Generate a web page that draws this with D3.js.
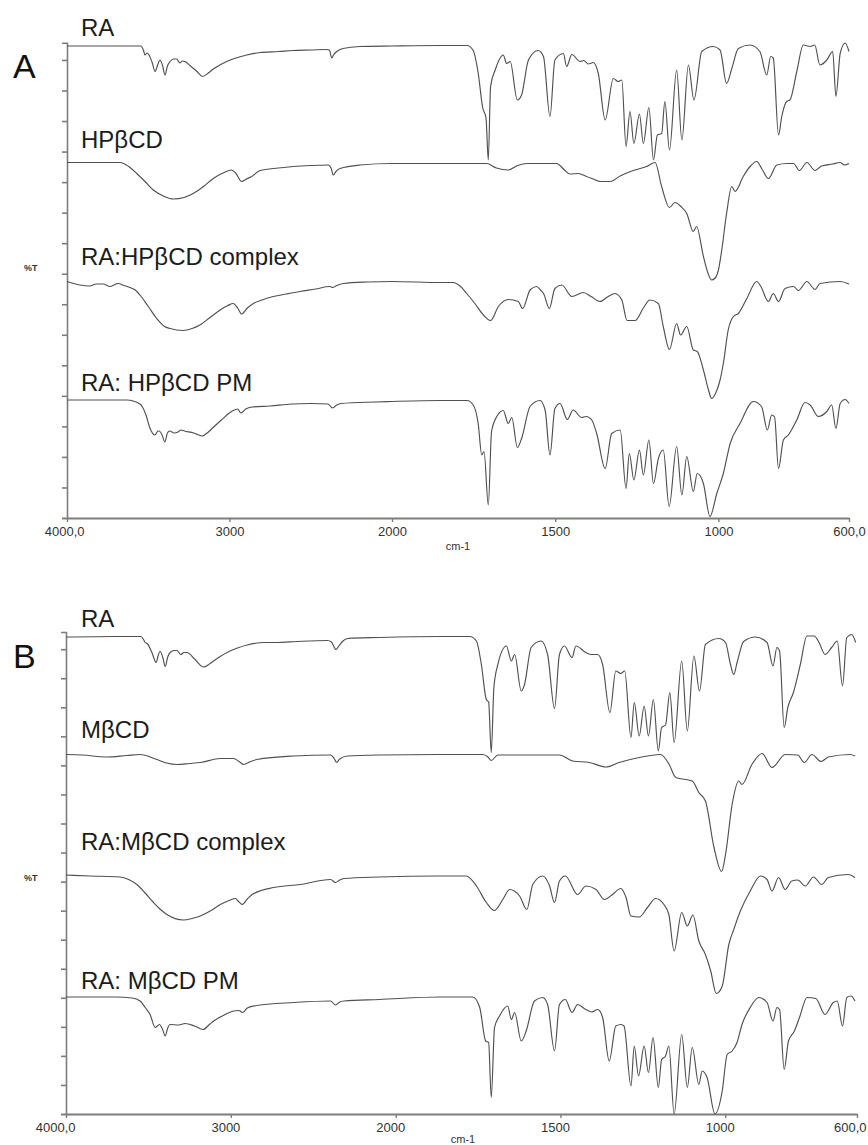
<!DOCTYPE html>
<html>
<head>
<meta charset="utf-8">
<script src="https://cdn.jsdelivr.net/npm/d3@7"></script>
<style>
  body { margin: 0; background: #fff; }
  svg { display: block; }
  .trace { fill: none; stroke: #505050; stroke-width: 1.15; stroke-linejoin: round; }
  .axis path, .axis line { stroke: #7d7d7d; }
  .name { font-family: "Liberation Sans", Arial, sans-serif; font-size: 24px; fill: #1c1c1c; }
  .letter { font-family: "Liberation Sans", Arial, sans-serif; font-size: 34px; fill: #111; }
  .unit { font-family: "Liberation Sans Narrow", "Arial Narrow", "Liberation Sans", sans-serif; fill: #333; }
</style>
</head>
<body>
<svg id="chart" width="868" height="1145"></svg>
<script>
// wavenumber axis (cm-1), scale changes at 2000
var wnBreaks = [4000, 2000, 600];
var xTicks = [4000, 3000, 2000, 1500, 1000, 600];
var xTickLabels = ["4000,0", "3000", "2000", "1500", "1000", "600,0"];

var namesA = ["RA", "HPβCD", "RA:HPβCD complex", "RA: HPβCD PM"];
var namesB = ["RA", "MβCD", "RA:MβCD complex", "RA: MβCD PM"];

// stacked %T values, [wavenumber, %T]
var raA = [[4000,94.4],[3700,94.4],[3545,94.4],[3530,93.6],[3520,92.6],[3508,93.0],[3495,92.6],[3475,91.0],[3458,89.3],[3440,90.8],[3428,91.6],[3412,90.5],[3397,88.6],[3382,90.4],[3366,91.3],[3345,91.8],[3325,91.8],[3305,91.0],[3290,91.4],[3274,91.3],[3240,90.4],[3200,89.3],[3165,88.3],[3130,89.0],[3100,89.8],[3060,90.6],[3017,91.3],[2960,92.0],[2894,92.6],[2812,93.1],[2700,93.3],[2609,93.5],[2500,93.6],[2402,93.7],[2385,93.6],[2371,92.0],[2360,92.6],[2340,93.3],[2302,93.9],[2197,94.3],[2000,94.4],[1853,94.5],[1770,94.5],
  [1752,93.6],[1736,89.0],[1722,82.0],[1712,80.0],[1705,71.6],[1698,86.3],[1684,89.6],[1659,92.6],[1649,90.9],[1638,91.3],[1616,83.6],[1603,84.6],[1582,91.6],[1552,93.5],[1536,92.3],[1516,80.3],[1501,91.6],[1475,92.9],[1465,90.3],[1449,92.7],[1424,91.3],[1412,91.5],[1399,90.8],[1383,91.1],[1368,88.9],[1347,79.6],[1322,87.9],[1307,87.3],[1296,87.6],[1283,74.3],[1271,81.3],[1259,74.9],[1242,80.8],[1230,74.9],[1213,82.1],[1199,71.6],[1187,76.6],[1174,76.9],[1164,83.3],[1150,73.6],[1128,89.6],[1112,75.6],[1092,90.6],[1075,83.6],[1051,93.3],[1016,94.3],[995,93.6],[975,86.9],[959,89.9],[939,93.9],[903,94.6],[873,93.3],[852,88.6],[840,92.3],[832,92.0],[816,76.6],[806,80.3],[791,83.3],[781,83.6],[760,89.3],[740,94.6],[719,94.3],[705,94.6],[689,90.6],[668,91.6],[650,93.3],[640,84.3],[627,92.9],[612,95.0],[600,93.3]];

var hpbcd = [[4000,71.1],[3800,71.1],[3674,71.1],[3620,70.3],[3571,68.9],[3520,67.3],[3469,65.6],[3400,64.3],[3346,63.8],[3280,64.1],[3223,64.9],[3160,66.3],[3100,67.9],[3040,69.0],[2987,69.6],[2960,68.9],[2925,67.3],[2895,67.8],[2864,68.3],[2812,69.5],[2700,70.0],[2607,70.3],[2500,70.5],[2392,70.6],[2375,70.0],[2361,68.6],[2345,69.3],[2320,69.9],[2197,70.6],[2000,70.9],[1853,70.9],[1710,70.9],[1680,70.0],[1644,69.6],[1615,70.5],[1587,70.9],[1496,70.9],[1470,69.5],[1455,68.8],[1430,68.9],[1404,68.3],[1380,67.7],[1363,67.3],[1332,67.3],[1301,68.4],[1261,69.5],[1220,70.3],[1194,71.1],[1174,66.3],[1150,62.1],[1133,63.1],[1115,62.3],[1097,60.9],[1077,57.3],[1067,58.3],[1046,52.3],[1030,48.6],[1021,47.6],[1010,48.0],[1000,49.6],[990,53.5],[975,60.9],[959,66.3],[949,65.3],[924,68.3],[903,70.3],[883,71.3],[865,69.6],[847,67.9],[821,70.6],[790,70.9],[770,70.9],[752,69.5],[729,71.1],[704,69.5],[684,70.4],[650,70.8],[627,71.1],[614,70.6],[600,70.9]];

var complexA = [[4000,47.3],[3920,46.6],[3860,46.4],[3820,46.8],[3777,46.8],[3735,46.3],[3700,46.8],[3684,46.9],[3650,46.5],[3612,46.1],[3580,45.6],[3551,44.6],[3500,42.3],[3448,39.9],[3400,38.3],[3366,37.9],[3285,37.5],[3230,37.9],[3182,38.6],[3120,40.1],[3058,41.6],[3010,42.5],[2977,42.9],[2950,42.0],[2925,40.8],[2890,42.0],[2853,42.9],[2800,43.6],[2730,44.3],[2650,44.8],[2566,45.3],[2470,45.8],[2382,46.3],[2365,46.1],[2340,46.5],[2300,46.9],[2150,47.2],[2000,47.3],[1853,47.1],[1813,47.1],[1790,46.3],[1771,44.9],[1745,42.8],[1720,40.6],[1698,39.5],[1674,42.3],[1644,43.7],[1613,43.3],[1600,41.9],[1577,45.6],[1557,46.3],[1545,45.6],[1535,44.8],[1518,41.9],[1501,45.9],[1480,46.6],[1449,44.3],[1414,45.1],[1390,44.3],[1363,43.3],[1340,44.2],[1317,44.9],[1296,43.6],[1280,39.5],[1255,39.5],[1230,42.0],[1210,43.6],[1184,42.9],[1169,38.3],[1150,33.7],[1128,38.9],[1116,36.6],[1097,38.3],[1077,33.6],[1065,33.3],[1046,29.6],[1030,25.5],[1021,23.9],[1005,25.5],[995,27.6],[985,30.9],[970,37.6],[954,40.3],[939,40.9],[913,43.9],[883,47.3],[870,46.3],[847,43.3],[832,44.9],[816,43.3],[796,45.9],[770,46.3],[755,45.5],[729,47.3],[704,45.7],[689,46.9],[627,47.3],[600,46.8]];

var pmA = [[4000,23.6],[3700,23.6],[3633,23.6],[3551,22.8],[3514,20.6],[3490,18.0],[3459,16.6],[3440,17.4],[3433,17.4],[3415,16.6],[3398,15.2],[3382,17.0],[3368,17.4],[3340,17.0],[3317,17.2],[3300,17.6],[3277,17.4],[3220,17.0],[3169,16.4],[3130,17.2],[3104,18.0],[3050,19.6],[2983,21.4],[2950,21.8],[2930,21.0],[2900,21.8],[2861,22.2],[2750,22.4],[2618,22.8],[2500,22.9],[2395,22.8],[2365,22.0],[2340,22.6],[2314,22.9],[2100,23.2],[2000,23.3],[1853,23.5],[1770,23.5],[1751,22.6],[1736,18.9],[1725,12.6],[1718,13.3],[1705,2.6],[1695,17.3],[1679,20.3],[1659,21.5],[1644,18.9],[1633,20.1],[1616,14.1],[1603,15.9],[1577,22.3],[1547,23.5],[1531,21.6],[1516,12.6],[1501,21.9],[1485,22.9],[1463,19.7],[1445,21.6],[1419,20.1],[1405,20.3],[1388,19.6],[1373,16.9],[1347,9.9],[1327,16.9],[1301,17.6],[1283,5.9],[1273,12.9],[1259,7.6],[1242,13.6],[1230,8.6],[1213,15.6],[1199,6.9],[1184,11.9],[1169,13.6],[1151,2.3],[1128,14.3],[1112,4.6],[1097,12.3],[1077,5.3],[1065,8.9],[1046,6.9],[1026,0.3],[1005,4.9],[985,8.9],[964,14.9],[934,18.9],[893,23.3],[868,22.3],[850,17.6],[837,20.6],[828,20.2],[816,9.9],[801,15.6],[786,16.6],[760,19.6],[735,23.1],[719,22.6],[694,20.3],[668,21.3],[653,22.6],[640,17.9],[627,22.9],[612,23.7],[600,22.9]];

var raB = [[4000,100.0],[3700,100.1],[3545,100.1],[3530,99.5],[3520,98.9],[3505,98.6],[3480,97.0],[3453,94.9],[3440,96.4],[3429,97.1],[3412,95.8],[3398,94.1],[3383,96.0],[3368,96.9],[3345,97.3],[3327,97.3],[3303,96.5],[3285,96.9],[3266,96.9],[3220,95.6],[3165,94.0],[3130,94.6],[3105,95.2],[3060,96.2],[3023,96.9],[2960,97.8],[2901,98.4],[2800,98.9],[2719,98.9],[2600,99.1],[2414,99.3],[2390,99.0],[2362,97.5],[2345,98.2],[2320,99.2],[2292,99.7],[2100,99.9],[1865,100.1],[1775,100.1],
  [1755,99.2],[1740,94.5],[1725,87.5],[1718,87.0],[1710,76.9],[1702,89.9],[1690,94.5],[1664,98.2],[1649,95.2],[1639,96.5],[1619,89.2],[1609,90.5],[1589,97.9],[1559,99.2],[1539,96.5],[1518,85.7],[1503,96.5],[1488,98.2],[1465,95.9],[1453,98.2],[1423,96.9],[1405,96.5],[1387,96.5],[1372,94.5],[1350,84.9],[1332,93.2],[1317,92.7],[1305,93.2],[1286,79.9],[1276,86.9],[1261,80.2],[1246,86.2],[1233,80.2],[1218,87.5],[1203,77.2],[1193,81.9],[1181,82.4],[1168,88.9],[1155,78.9],[1132,95.2],[1115,81.2],[1095,96.2],[1078,89.2],[1060,98.5],[1019,99.7],[999,98.9],[984,94.5],[974,92.5],[964,94.9],[944,99.1],[908,100.0],[873,98.9],[855,94.2],[843,97.9],[835,97.2],[821,81.9],[810,85.9],[793,88.9],[772,94.5],[752,100.2],[730,100.2],[715,98.9],[697,96.5],[677,97.9],[660,99.2],[644,90.2],[631,99.9],[616,100.5],[604,98.9]];

var mbcd = [[4000,76.5],[3900,76.4],[3753,76.0],[3631,76.3],[3550,76.5],[3449,75.5],[3390,74.8],[3327,74.5],[3250,74.7],[3185,74.9],[3064,75.7],[2983,75.7],[2950,75.1],[2922,74.5],[2880,75.1],[2841,75.5],[2618,76.2],[2395,76.4],[2375,75.8],[2359,74.9],[2340,75.6],[2292,76.2],[2100,76.4],[1865,76.5],[1736,76.5],[1720,76.0],[1710,75.3],[1690,76.4],[1503,76.4],[1463,75.2],[1412,74.9],[1362,74.0],[1322,74.9],[1261,75.9],[1196,76.5],[1170,74.5],[1150,71.9],[1100,71.2],[1080,68.9],[1060,67.2],[1034,57.9],[1011,53.1],[999,56.5],[979,66.5],[959,71.2],[949,70.5],[919,74.5],[888,76.7],[858,73.9],[818,76.5],[780,76.4],[760,74.9],[737,76.5],[709,75.1],[687,76.0],[621,76.5],[606,76.2]];

var complexB = [[4000,52.4],[3850,52.2],[3672,52.0],[3620,51.5],[3570,50.5],[3520,48.8],[3469,46.9],[3430,45.6],[3388,44.5],[3287,43.4],[3235,43.7],[3185,44.2],[3120,45.3],[3064,46.5],[3010,47.3],[2973,47.7],[2950,47.0],[2932,46.5],[2900,47.6],[2871,48.5],[2740,49.9],[2578,50.5],[2395,51.5],[2365,50.9],[2340,51.4],[2314,51.7],[2100,52.0],[1865,52.2],[1786,52.2],[1755,50.2],[1725,46.9],[1700,45.3],[1675,47.5],[1654,49.5],[1640,49.2],[1624,48.2],[1602,45.5],[1584,50.5],[1554,52.2],[1533,50.2],[1518,46.9],[1503,51.2],[1485,52.2],[1448,48.5],[1423,50.2],[1392,49.5],[1367,47.5],[1342,48.5],[1317,49.7],[1301,47.9],[1286,44.2],[1261,44.0],[1236,45.9],[1211,47.7],[1186,46.5],[1171,44.5],[1155,37.2],[1132,44.9],[1115,42.2],[1098,44.4],[1080,39.2],[1060,36.5],[1044,33.2],[1027,28.7],[1009,30.2],[989,38.5],[974,41.5],[954,45.2],[924,49.2],[893,52.2],[873,51.5],[858,49.2],[838,51.9],[818,49.5],[798,51.2],[780,51.4],[757,50.2],[732,52.0],[707,50.5],[687,51.9],[627,52.5],[606,51.9]];

var pmB = [[4000,28.0],[3700,28.0],[3600,27.8],[3550,27.2],[3520,25.9],[3490,24.5],[3459,21.9],[3433,22.5],[3415,21.6],[3398,20.2],[3383,21.8],[3368,22.5],[3317,22.4],[3277,22.7],[3220,22.2],[3169,21.5],[3130,22.5],[3104,23.2],[3040,24.4],[2983,25.2],[2950,25.3],[2930,24.9],[2900,25.8],[2861,26.2],[2618,26.9],[2395,27.2],[2365,26.4],[2340,27.0],[2314,27.2],[2100,27.5],[1865,28.0],[1766,28.0],[1745,25.9],[1727,19.2],[1718,18.9],[1710,7.9],[1700,21.9],[1685,24.2],[1660,26.2],[1649,23.5],[1639,24.9],[1619,19.2],[1604,21.2],[1579,27.2],[1554,27.9],[1539,26.5],[1518,17.2],[1503,26.5],[1485,27.5],[1465,24.9],[1448,26.5],[1423,25.5],[1405,25.0],[1387,25.5],[1372,23.9],[1352,15.2],[1332,22.2],[1316,22.5],[1307,22.2],[1286,10.2],[1276,18.2],[1263,12.2],[1246,18.2],[1233,12.9],[1219,19.9],[1203,9.9],[1193,15.5],[1181,16.2],[1171,18.2],[1155,4.6],[1132,20.5],[1115,9.9],[1100,17.9],[1080,10.5],[1070,13.2],[1055,11.9],[1031,4.6],[1009,9.2],[994,16.5],[979,17.2],[964,18.9],[949,22.5],[924,25.9],[898,27.9],[873,26.9],[855,23.2],[843,25.9],[835,25.5],[821,13.5],[808,19.2],[790,21.2],[773,24.2],[752,27.9],[725,27.7],[697,24.5],[672,26.9],[660,27.2],[644,22.2],[631,27.9],[618,28.2],[606,27.2]];

// layout of the two panels
var panels = [
  { letter: "A", letterY: 78, xRange: [67, 392, 849], yTop: 42.7, yBottom: 518,
    yDomain: [0, 95.06], tickStep: 6.107, nTicks: 16,
    series: [raA, hpbcd, complexA, pmA], names: namesA, nameY: [36, 148, 265, 391],
    unitY: 271, cmX: 458, cmY: 550 },
  { letter: "B", letterY: 668, xRange: [66, 395.7, 857], yTop: 632, yBottom: 1114,
    yDomain: [4.6, 101], tickStep: 5.81, nTicks: 17,
    series: [raB, mbcd, complexB, pmB], names: namesB, nameY: [627, 738, 850, 989],
    unitY: 881, cmX: 463, cmY: 1143 }
];

var svg = d3.select("#chart");
svg.append("rect").attr("width", 868).attr("height", 1145).attr("fill", "#fff");

panels.forEach(function(p) {
    var x = d3.scaleLinear().domain(wnBreaks).range(p.xRange);
    var y = d3.scaleLinear().domain(p.yDomain).range([p.yBottom, p.yTop]);
    var g = svg.append("g");

    var line = d3.line()
        .x(function(d) { return x(d[0]); })
        .y(function(d) { return y(d[1]); })
        .curve(d3.curveMonotoneX);

    // y axis (%T, unlabeled ticks)
    var yTickVals = d3.range(p.nTicks).map(function(k) { return p.yDomain[0] + k * p.tickStep; });
    g.append("g")
        .attr("class", "axis")
        .attr("transform", "translate(" + p.xRange[0] + ",0)")
        .call(d3.axisLeft(y).tickValues(yTickVals).tickFormat("").tickSize(5).tickSizeOuter(5))
        .selectAll("path, line").attr("stroke-width", 1.6);

    // x axis
    var xa = g.append("g")
        .attr("class", "axis")
        .attr("transform", "translate(0," + p.yBottom + ")")
        .call(d3.axisBottom(x).tickValues(xTicks)
            .tickFormat(function(d, i) { return xTickLabels[i]; })
            .tickSize(4).tickSizeOuter(0).tickPadding(5));
    xa.select(".domain").attr("stroke-width", 2.2);
    xa.selectAll("line").attr("stroke-width", 1.4);
    xa.selectAll("text")
        .attr("fill", "#333")
        .attr("font-size", 13)
        .attr("font-family", '"Liberation Sans Narrow", "Arial Narrow", "Liberation Sans", sans-serif');

    // keep the last tick label inside the picture
    xa.selectAll(".tick text").each(function() {
        var b = this.getBBox();
        var right = x(600) + b.x + b.width;
        if (right > 866) d3.select(this).attr("dx", (866 - right) + "px");
    });

    g.selectAll("path.trace")
        .data(p.series)
        .join("path")
        .attr("class", "trace")
        .attr("d", line);

    g.selectAll("text.name")
        .data(p.names)
        .join("text")
        .attr("class", "name")
        .attr("x", 81)
        .attr("y", function(d, i) { return p.nameY[i]; })
        .text(function(d) { return d; });

    g.append("text").attr("class", "letter")
        .attr("x", 13).attr("y", p.letterY).text(p.letter);

    g.append("text").attr("class", "unit")
        .attr("x", 24).attr("y", p.unitY)
        .attr("font-size", 9).attr("font-weight", "bold")
        .text("%T");

    g.append("text").attr("class", "unit")
        .attr("x", p.cmX).attr("y", p.cmY)
        .attr("text-anchor", "middle")
        .attr("font-size", 11)
        .text("cm-1");
});
</script>
</body>
</html>
